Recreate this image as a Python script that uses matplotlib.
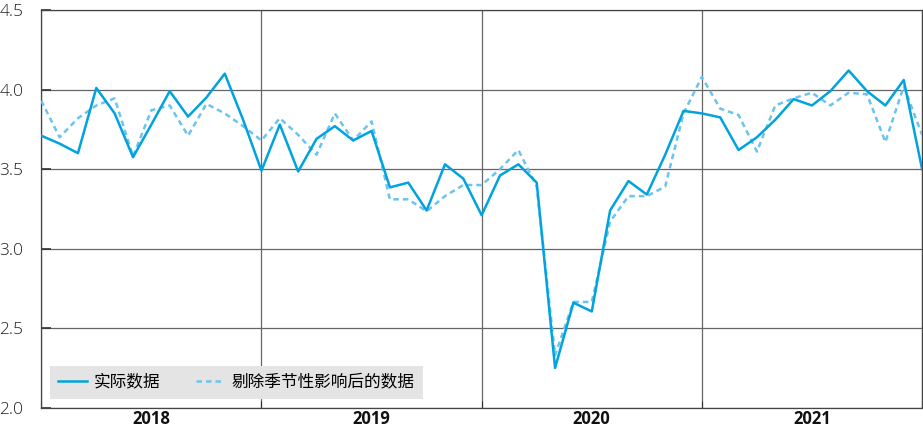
import numpy as np
import matplotlib.pyplot as plt
from matplotlib.lines import Line2D

plt.rcParams['font.family'] = ['Open Sans', 'Noto Sans CJK SC', 'DejaVu Sans']

# DADOS (mensal, jan/2018 - jan/2022)
years = ['2018', '2019', '2020', '2021']
actual = [3.71, 3.66, 3.60, 4.01, 3.85, 3.575, 3.78, 3.99, 3.83, 3.95, 4.10, 3.81,
          3.49, 3.78, 3.485, 3.69, 3.77, 3.68, 3.74, 3.385, 3.415, 3.24, 3.53, 3.44,
          3.21, 3.46, 3.53, 3.415, 2.25, 2.66, 2.605, 3.24, 3.425, 3.34, 3.59, 3.866,
          3.85, 3.825, 3.62, 3.70, 3.81, 3.94, 3.90, 3.99, 4.12, 3.99, 3.90, 4.06,
          3.50]
adjusted = [3.93, 3.70, 3.82, 3.90, 3.945, 3.58, 3.87, 3.90, 3.71, 3.91, 3.85, 3.77,
            3.68, 3.82, 3.715, 3.59, 3.85, 3.68, 3.80, 3.31, 3.31, 3.235, 3.33, 3.40,
            3.40, 3.50, 3.62, 3.39, 2.33, 2.665, 2.665, 3.17, 3.33, 3.33, 3.39, 3.85,
            4.08, 3.88, 3.84, 3.61, 3.90, 3.945, 3.98, 3.90, 3.98, 3.97, 3.67, 4.02,
            3.715]
labels = ['实际数据', '剔除季节性影响后的数据']

months = np.arange(len(actual))

fig = plt.figure(figsize=(9.23, 4.28), dpi=100)
ax = fig.add_axes([0.0447, 0.0474, 0.9543, 0.9292])

c_solid = '#00a3dd'
c_dash = '#6cc4ee'
dash = (0, (2.2, 1.6))

ax.plot(months, adjusted, color=c_dash, lw=1.8, ls=dash, zorder=3)
ax.plot(months, actual, color=c_solid, lw=1.8, zorder=4)

# EIXOS
ax.set_xlim(0, 48)
ax.set_ylim(2.0, 4.5)
ax.set_yticks([2.0, 2.5, 3.0, 3.5, 4.0, 4.5])
ax.set_yticklabels(['2.0', '2.5', '3.0', '3.5', '4.0', '4.5'])
ax.set_xticks([0, 12, 24, 36, 48])
ax.set_xticklabels([])
ax.set_xticks([6, 18, 30, 42], minor=True)
ax.set_xticklabels(years, minor=True, fontsize=12, fontweight='bold', color='#111111')
ax.tick_params(axis='x', which='minor', length=0, pad=1.5)
ax.tick_params(axis='x', which='major', direction='in', length=5, color='#333333')
ax.tick_params(axis='y', direction='in', length=7, width=1.2, color='#333333',
               labelsize=12.5, pad=13, labelcolor='#222222')
for t in ax.get_yticklabels():
    t.set_fontweight('light')

ax.grid(True, which='major', color='#666666', lw=0.9)
for s in ax.spines.values():
    s.set_color('#444444')
    s.set_linewidth(0.9)

# LEGENDA
handles = [Line2D([], [], color=c_solid, lw=1.8),
           Line2D([], [], color=c_dash, lw=1.8, ls=dash)]
leg = ax.legend(handles, labels, loc='lower left', ncol=2, frameon=True,
                fancybox=False, fontsize=12, bbox_to_anchor=(0.0099, 0.0226),
                handlelength=1.7, columnspacing=2.1, borderpad=0.5,
                handletextpad=0.45, borderaxespad=0)
leg.get_frame().set_facecolor('#e4e4e4')
leg.get_frame().set_edgecolor('none')
leg.get_frame().set_alpha(1)

fig.savefig('out.png', dpi=100)
